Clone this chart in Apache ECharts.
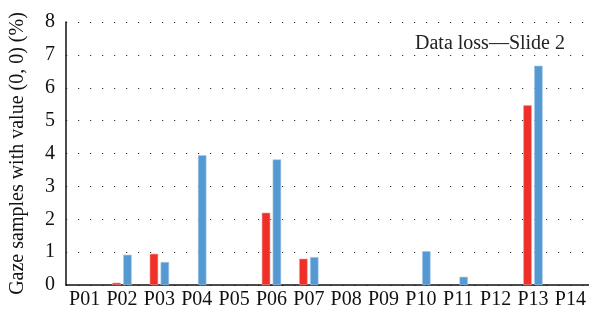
<!DOCTYPE html>
<html>
<head>
<meta charset="utf-8">
<script src="https://cdn.jsdelivr.net/npm/echarts@6/dist/echarts.min.js"></script>
<style>
	html, body { margin: 0; padding: 0; background: #fff; }
	#chart { width: 589px; height: 315px; }
</style>
</head>
<body>
<div id="chart"></div>
<script>
// categories and values
var participants = ['P01', 'P02', 'P03', 'P04', 'P05', 'P06', 'P07', 'P08', 'P09', 'P10', 'P11', 'P12', 'P13', 'P14'];
var redValues = [0, 0.07, 0.95, 0, 0, 2.2, 0.8, 0, 0, 0, 0, 0, 5.47, 0];
var blueValues = [0, 0.92, 0.7, 3.95, 0, 3.82, 0.85, 0, 0, 1.03, 0.25, 0, 6.67, 0];
var yTicks = [0, 1, 2, 3, 4, 5, 6, 7, 8];

var fontName = 'Liberation Serif';

/** zero values are not drawn as bars */
function toBarData(pValues) {
	return pValues.map(function (v) { return v > 0 ? v : null; });
}

var chart = echarts.init(document.getElementById('chart'));
var option = {
	animation: false,
	grid: { left: 63, right: 0, top: 22, bottom: 30 },
	title: {
		text: 'Data loss\u2014Slide 2',
		right: 19, top: 29,
		textStyle: { fontFamily: fontName, fontSize: 20, fontWeight: 'normal', color: '#222' }
	},
	xAxis: {
		type: 'category',
		data: participants,
		axisLine: { lineStyle: { color: '#111', width: 1.5 } },
		axisTick: { show: false },
		axisLabel: { fontFamily: fontName, fontSize: 20, color: '#111', margin: 5, interval: 0 }
	},
	yAxis: {
		type: 'value',
		min: yTicks[0], max: yTicks[yTicks.length - 1], interval: 1,
		name: 'Gaze samples with value (0, 0) (%)',
		nameLocation: 'middle',
		nameGap: 38,
		nameTextStyle: { fontFamily: fontName, fontSize: 20, color: '#111' },
		axisLine: { show: true, lineStyle: { color: '#111', width: 1.5 } },
		axisTick: { show: false },
		axisLabel: { fontFamily: fontName, fontSize: 20, color: '#111', margin: 11 },
		splitLine: { lineStyle: { color: '#333', width: 1.2, type: [1.2, 10.8] } }
	},
	series: [
		{
			type: 'bar', data: toBarData(redValues), barWidth: 8.5, barGap: '28%',
			itemStyle: { color: '#EE3029', borderColor: '#F5A09A', borderWidth: 0.6 }
		},
		{
			type: 'bar', data: toBarData(blueValues), barWidth: 8.5,
			itemStyle: { color: '#5599D3', borderColor: '#A9CBEA', borderWidth: 0.6 }
		}
	]
};
chart.setOption(option);
</script>
</body>
</html>
